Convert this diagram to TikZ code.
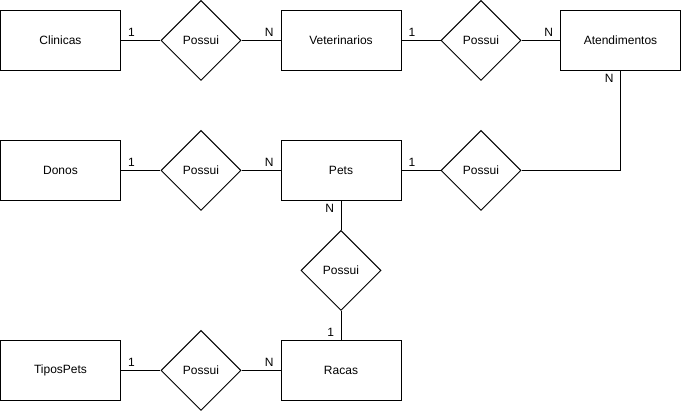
\documentclass[tikz,border=0pt]{standalone}
\usepackage{fontspec}
\setmainfont{Liberation Sans}
\usetikzlibrary{shapes.geometric}
\begin{document}
\begin{tikzpicture}[x=1pt,y=-1pt,line width=1pt,
  ent/.style={draw,rectangle,minimum width=120pt,minimum height=60pt,inner sep=0pt,font=\fontsize{12pt}{14pt}\selectfont},
  rel/.style={draw,diamond,aspect=1,minimum width=80pt,minimum height=80pt,inner sep=0pt,font=\fontsize{12pt}{14pt}\selectfont},
  lbl/.style={inner xsep=6.5pt,inner ysep=3pt,font=\fontsize{12pt}{14pt}\selectfont}]
\useasboundingbox (0,0) rectangle (681,411);
\node[ent] (clin) at (60.5,40.5) {Clinicas};
\node[rel] (d1) at (201,40.5) {Possui};
\node[ent] (vet) at (341,40.5) {Veterinarios};
\node[rel] (d2) at (481,40.5) {Possui};
\node[ent] (aten) at (620.5,40.5) {Atendimentos};
\node[ent] (donos) at (60.5,170.5) {Donos};
\node[rel] (d3) at (201,170.5) {Possui};
\node[ent] (pets) at (341,170.5) {Pets};
\node[rel] (d4) at (481,170.5) {Possui};
\node[rel] (d5) at (341,270.5) {Possui};
\node[ent] (tipos) at (60.5,370.5) {TiposPets};
\node[rel] (d6) at (201,370.5) {Possui};
\node[ent] (racas) at (341,370.5) {Racas};
\draw (clin) -- node[lbl,pos=0,above right]{1} (d1);
\draw (d1) -- node[lbl,pos=1,above left]{N} (vet);
\draw (vet) -- node[lbl,pos=0,above right]{1} (d2);
\draw (d2) -- node[lbl,pos=1,above left]{N} (aten);
\draw (donos) -- node[lbl,pos=0,above right]{1} (d3);
\draw (d3) -- node[lbl,pos=1,above left]{N} (pets);
\draw (pets) -- node[lbl,pos=0,above right]{1} (d4);
\draw (d4.east) -| node[lbl,pos=1,below left]{N} (aten.south);
\draw (pets) -- node[lbl,pos=0,below left]{N} (d5);
\draw (d5) -- node[lbl,pos=1,above left]{1} (racas);
\draw (tipos) -- node[lbl,pos=0,above right]{1} (d6);
\draw (d6) -- node[lbl,pos=1,above left]{N} (racas);
\end{tikzpicture}
\end{document}
